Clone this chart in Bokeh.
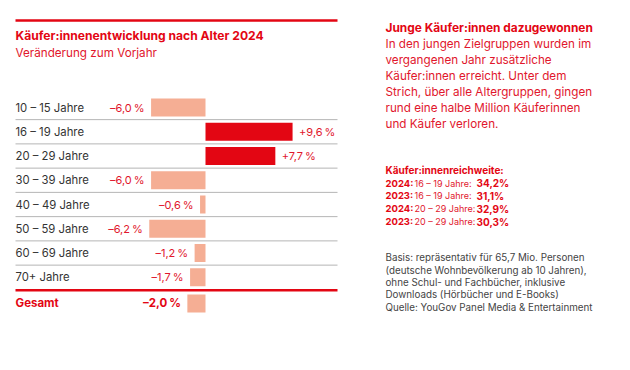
from bokeh.plotting import figure
from bokeh.models import Range1d
from bokeh.core.properties import value
from bokeh.embed import file_html
from bokeh.resources import INLINE

# ---------------- data ----------------
age_groups = ["10 – 15 Jahre", "16 – 19 Jahre", "20 – 29 Jahre", "30 – 39 Jahre",
              "40 – 49 Jahre", "50 – 59 Jahre", "60 – 69 Jahre", "70+ Jahre"]
changes = [-6.0, 9.6, 7.7, -6.0, -0.6, -6.2, -1.2, -1.7]
total_label = "Gesamt"
total_change = -2.0

title = "Käufer:innenentwicklung nach Alter 2024"
subtitle = "Veränderung zum Vorjahr"

side_heading = "Junge Käufer:innen dazugewonnen"
side_body = ["In den jungen Zielgruppen wurden im",
             "vergangenen Jahr zusätzliche",
             "Käufer:innen erreicht. Unter dem",
             "Strich, über alle Altergruppen, gingen",
             "rund eine halbe Million Käuferinnen",
             "und Käufer verloren."]
reach_heading = "Käufer:innenreichweite:"
reach_years = ["2024:", "2023:", "2024:", "2023:"]
reach_groups = ["16 – 19 Jahre:", "16 – 19 Jahre:", "20 – 29 Jahre:", "20 – 29 Jahre:"]
reach_values = ["34,2%", "31,1%", "32,9%", "30,3%"]
footer = ["Basis: repräsentativ für 65,7 Mio. Personen",
          "(deutsche Wohnbevölkerung ab 10 Jahren),",
          "ohne Schul- und Fachbücher, inklusive",
          "Downloads (Hörbücher und E-Books)",
          "Quelle: YouGov Panel Media & Entertainment"]

# ---------------- layout helpers (image pixels -> data) ----------------
W, H = 614, 354
PX_PER_PCT = 9.07
ZERO_PX = 205.0
ROW0_PX = 107.0
ROW_PX = 24.25
OFF = 0  # canvas origin in the photographed image

def dx(px):
    return (px - ZERO_PX) / PX_PER_PCT

def dy(py):
    return (py - ROW0_PX) / ROW_PX

RED = "#e30613"
SALMON = "#f5ae94"
TXT_RED = "#e1172d"
DARK = "#333333"
GRAY = "#444444"
FONT = "Inter"

p = figure(width=W, height=H, output_backend="svg", toolbar_location=None,
           x_range=Range1d(dx(OFF), dx(OFF + W)), y_range=Range1d(dy(OFF + H), dy(OFF)),
           min_border=0, x_axis_location=None, y_axis_location=None,
           outline_line_color=None, background_fill_color="white",
           border_fill_color="white")
p.xgrid.visible = False
p.ygrid.visible = False

n = len(age_groups)
ys = list(range(n))
total_y = n + 0.08
bar_h = 18 / ROW_PX

def fmt(v):
    s = f"{abs(v):.1f}".replace(".", ",")
    return ("+" if v > 0 else "–") + s + "\u2009%"

# lines
p.segment(x0=[dx(15)], x1=[dx(337)], y0=[dy(20)], y1=[dy(20)], line_color=RED, line_width=2.5)
sep_y = [i + 0.5 for i in range(n - 1)]
p.segment(x0=[dx(15)] * len(sep_y), x1=[dx(337)] * len(sep_y), y0=sep_y, y1=sep_y,
          line_color="#b5b5b5", line_width=1)
red_y = (n - 1 + total_y) / 2
p.segment(x0=[dx(15)], x1=[dx(337)], y0=[red_y], y1=[red_y], line_color=RED, line_width=2.5)

# bars
colors = [RED if v > 0 else SALMON for v in changes]
p.hbar(y=ys, left=0, right=changes, height=bar_h, color=colors, line_color=None)
p.hbar(y=[total_y], left=0, right=[total_change], height=bar_h, color=SALMON, line_color=None)

# value labels
gap = 6.5 / PX_PER_PCT
neg = [(v - gap, y, fmt(v)) for v, y in zip(changes, ys) if v < 0]
pos = [(v + gap, y, fmt(v)) for v, y in zip(changes, ys) if v > 0]
p.text(x=[a[0] for a in neg], y=[a[1] for a in neg], text=[a[2] for a in neg],
       text_align="right", text_baseline="middle", text_color=TXT_RED,
       text_font=value(FONT), text_font_size="11px")
p.text(x=[a[0] for a in pos], y=[a[1] for a in pos], text=[a[2] for a in pos],
       text_align="left", text_baseline="middle", text_color=TXT_RED,
       text_font=value(FONT), text_font_size="11px")
p.text(x=[total_change - gap], y=[total_y], text=[fmt(total_change)],
       text_align="right", text_baseline="middle", text_color=RED,
       text_font=value(FONT), text_font_size="11.5px", text_font_style="bold")

# category labels
p.text(x=[dx(15)] * n, y=ys, text=age_groups, text_align="left", text_baseline="middle",
       text_color=DARK, text_font=value(FONT), text_font_size="11.3px")
p.text(x=[dx(15)], y=[total_y], text=[total_label], text_align="left", text_baseline="middle",
       text_color=RED, text_font=value(FONT), text_font_size="11.5px", text_font_style="bold")

# titles
p.text(x=[dx(15)], y=[dy(35)], text=[title], text_align="left", text_baseline="middle",
       text_color=RED, text_font=value(FONT), text_font_size="12.1px", text_font_style="bold")
p.text(x=[dx(15)], y=[dy(52)], text=[subtitle], text_align="left", text_baseline="middle",
       text_color=TXT_RED, text_font=value(FONT), text_font_size="11.7px")

# side panel
SX = dx(385)
p.text(x=[SX], y=[dy(26.5)], text=[side_heading], text_align="left", text_baseline="middle",
       text_color=RED, text_font=value(FONT), text_font_size="11.9px", text_font_style="bold")
p.text(x=[SX] * len(side_body), y=[dy(43.3 + 16 * i) for i in range(len(side_body))],
       text=side_body, text_align="left", text_baseline="middle",
       text_color=TXT_RED, text_font=value(FONT), text_font_size="11.7px")

p.text(x=[SX], y=[dy(169.5)], text=[reach_heading], text_align="left", text_baseline="middle",
       text_color=RED, text_font=value(FONT), text_font_size="10px", text_font_style="bold")
ry = [dy(182.5 + 12.9 * i) for i in range(len(reach_years))]
p.text(x=[SX] * 4, y=ry, text=reach_years, text_align="left", text_baseline="middle",
       text_color=RED, text_font=value(FONT), text_font_size="9.5px", text_font_style="bold")
p.text(x=[dx(414)] * 4, y=ry, text=reach_groups, text_align="left", text_baseline="middle",
       text_color=TXT_RED, text_font=value(FONT), text_font_size="9px")
p.text(x=[dx(476)] * 4, y=ry, text=reach_values, text_align="left", text_baseline="middle",
       text_color=RED, text_font=value(FONT), text_font_size="10px", text_font_style="bold")

p.text(x=[SX] * len(footer), y=[dy(257.3 + 12.35 * i) for i in range(len(footer))],
       text=footer, text_align="left", text_baseline="middle",
       text_color=GRAY, text_font=value(FONT), text_font_size="9.8px")

open("out.html", "w").write(file_html(p, INLINE))
